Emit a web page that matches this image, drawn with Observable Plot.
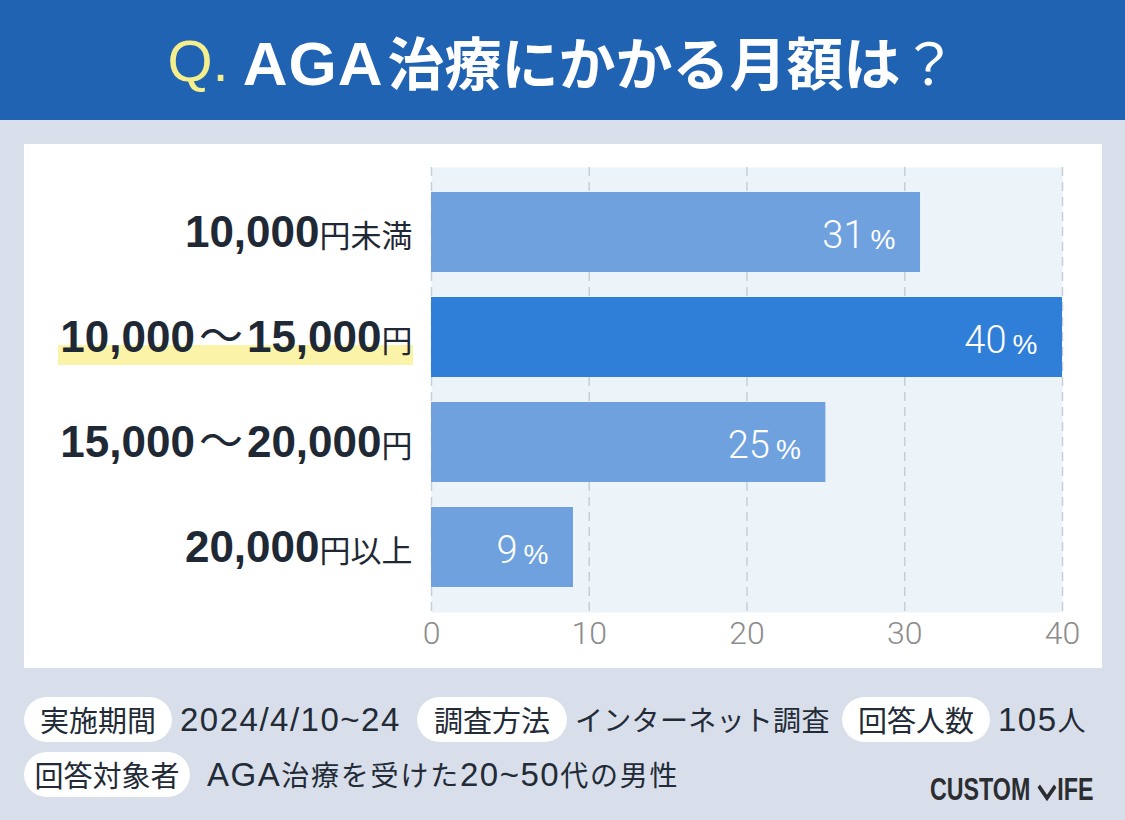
<!DOCTYPE html>
<html>
<head>
<meta charset="utf-8">
<script src="https://cdn.jsdelivr.net/npm/d3@7"></script>
<script src="https://cdn.jsdelivr.net/npm/@observablehq/plot@0.6"></script>
<style>
  body { margin: 0; }
  #root { position: relative; width: 1125px; height: 820px; background: #d8deea; overflow: hidden;
          font-family: "Liberation Sans", "Noto Sans CJK JP", sans-serif; color: #212a36; }
  #header { position: absolute; left: 0; top: 0; width: 1125px; height: 120px; background: #2163b3;
            display: flex; align-items: center; justify-content: center; white-space: nowrap; }
  #header .q { color: #f4ef8c; font-family: "Liberation Sans", sans-serif; font-weight: 400; font-size: 58px; margin-right: 14px; }
  #header .t { color: #fff; font-family: "Noto Sans CJK JP", sans-serif; font-weight: 700; font-size: 57px; }
  #header .t .lat { font-family: "Liberation Sans", sans-serif; font-size: 62px; letter-spacing: 1px; margin-right: 4px; }
  #header .t .qm { font-weight: 400; }
  #panel { position: absolute; left: 24px; top: 144px; width: 1078px; height: 524px; background: #fff; }
  #hl { position: absolute; left: 58px; top: 345px; width: 355px; height: 20px; background: #fbf3a8; }
  #chart { position: absolute; left: 24px; top: 144px; }
  .pill { position: absolute; height: 45px; line-height: 45px; background: #fff; border-radius: 23px; text-align: center;
          font-family: "Noto Sans CJK JP", sans-serif; font-size: 29px; color: #222b36; white-space: nowrap; }
  .val { position: absolute; height: 45px; line-height: 45px; white-space: nowrap;
         font-family: "Noto Sans CJK JP", sans-serif; font-size: 28px; color: #222b36; letter-spacing: 0.3px; }
  .val .n { font-family: "Liberation Sans", sans-serif; font-size: 33px; letter-spacing: 1.5px; }
  .val.wide { letter-spacing: 1.8px; }
  #logo { position: absolute; left: 930px; top: 774px; height: 32px; display: flex; align-items: center;
          transform: scaleX(0.75); transform-origin: left center;
          font-family: "Liberation Sans Narrow", "Liberation Sans", sans-serif;
          font-weight: 700; font-size: 31px; color: #2b2d31; white-space: nowrap; }
</style>
</head>
<body>
<div id="root">
  <div id="header"><span class="q">Q.</span><span class="t"><span class="lat">AGA</span>治療にかかる月額は<span class="qm">？</span></span></div>
  <div id="panel"></div>
  <div id="hl"></div>
  <div id="chart"></div>

  <div class="pill" style="left:24px;top:697px;width:148px">実施期間</div>
  <div class="val" style="left:180px;top:697px"><span class="n">2024/4/10~24</span></div>
  <div class="pill" style="left:417px;top:697px;width:150px">調査方法</div>
  <div class="val" style="left:575px;top:697px">インターネット調査</div>
  <div class="pill" style="left:842px;top:697px;width:148px">回答人数</div>
  <div class="val" style="left:998px;top:697px"><span class="n">105</span>人</div>
  <div class="pill" style="left:24px;top:752px;width:166px">回答対象者</div>
  <div class="val wide" style="left:207px;top:752px"><span class="n">AGA</span>治療を受けた<span class="n">20~50</span>代の男性</div>

  <div id="logo"><span>CUSTOM</span><svg width="26" height="26" viewBox="0 0 26 26" style="margin:0 1px 0 9px"><polyline points="2,9 13,21 24,9" fill="none" stroke="#2b2d31" stroke-width="4.5"/></svg><span>IFE</span></div>
</div>
<script>
const categories = ["10,000円未満", "10,000～15,000円", "15,000～20,000円", "20,000円以上"];
const values = [31, 40, 25, 9];
const highlightCategory = "10,000～15,000円";
const xTicks = [0, 10, 20, 30, 40];

const data = categories.map((c, i) => ({
  category: c,
  value: values[i],
  group: c === highlightCategory ? "highlight" : "base"
}));

const numFont = "Roboto, 'Liberation Sans', sans-serif";

const chart = Plot.plot({
  width: 1078,
  height: 524,
  marginLeft: 407,
  marginRight: 40,
  marginTop: 23,
  marginBottom: 56,
  style: { background: "transparent", overflow: "visible", fontFamily: "'Liberation Sans', 'Noto Sans CJK JP', sans-serif" },
  x: { domain: [0, 40] },
  y: { domain: categories, padding: 0.238 },
  color: { domain: ["base", "highlight"], range: ["#6fa1de", "#2f7ed8"] },
  marks: [
    Plot.frame({ fill: "#edf4f9", stroke: null }),
    Plot.ruleX(xTicks, { stroke: "#c6ced8", strokeWidth: 1.5, strokeDasharray: "9,6" }),
    Plot.barX(data, { x: "value", y: "category", fill: "group" }),
    Plot.text(data, { x: "value", y: "category", text: d => String(d.value), textAnchor: "end", dx: -56, dy: 3,
                      fill: "white", fontSize: 38, fontWeight: 300, fontFamily: numFont }),
    Plot.text(data, { x: "value", y: "category", text: () => "%", textAnchor: "end", dx: -25, dy: 8,
                      fill: "white", fontSize: 28, fontWeight: 400, fontFamily: "'Liberation Sans', sans-serif" }),
    Plot.axisX({ ticks: xTicks, tickSize: 0, tickPadding: 9, fontSize: 32, fontWeight: 300,
                 fontFamily: numFont, fill: "#8c8c8c", label: null }),
    Plot.axisY({ tickSize: 0, tickPadding: 19, fontSize: 44, label: null, fill: "#1f2935" })
  ]
});

document.getElementById("chart").appendChild(chart);

// Style the y-axis labels: numbers bold and large, yen suffix smaller
d3.select(chart).selectAll('g[aria-label="y-axis tick label"] text').each(function () {
  const s = this.textContent;
  const parts = s.match(/[0-9,]+|～|[^0-9,～]+/g) || [s];
  const t = d3.select(this);
  t.text(null).attr("font-size", null);
  parts.forEach(p => {
    const ts = t.append("tspan").text(p);
    if (/^[0-9,]+$/.test(p)) {
      ts.attr("font-size", 44).attr("font-weight", 700).attr("font-family", "'Liberation Sans', sans-serif");
    } else if (p === "～") {
      ts.attr("font-size", 44).attr("font-weight", 400).attr("font-family", "'Noto Sans CJK JP', sans-serif")
        .attr("dx", 4);
    } else {
      ts.attr("font-size", 31).attr("font-weight", 400).attr("font-family", "'Noto Sans CJK JP', sans-serif");
    }
  });
  t.selectAll("tspan").each(function (d, i, nodes) {
    if (i > 0 && nodes[i - 1].textContent === "～") d3.select(this).attr("dx", 4);
  });
});
</script>
</body>
</html>
